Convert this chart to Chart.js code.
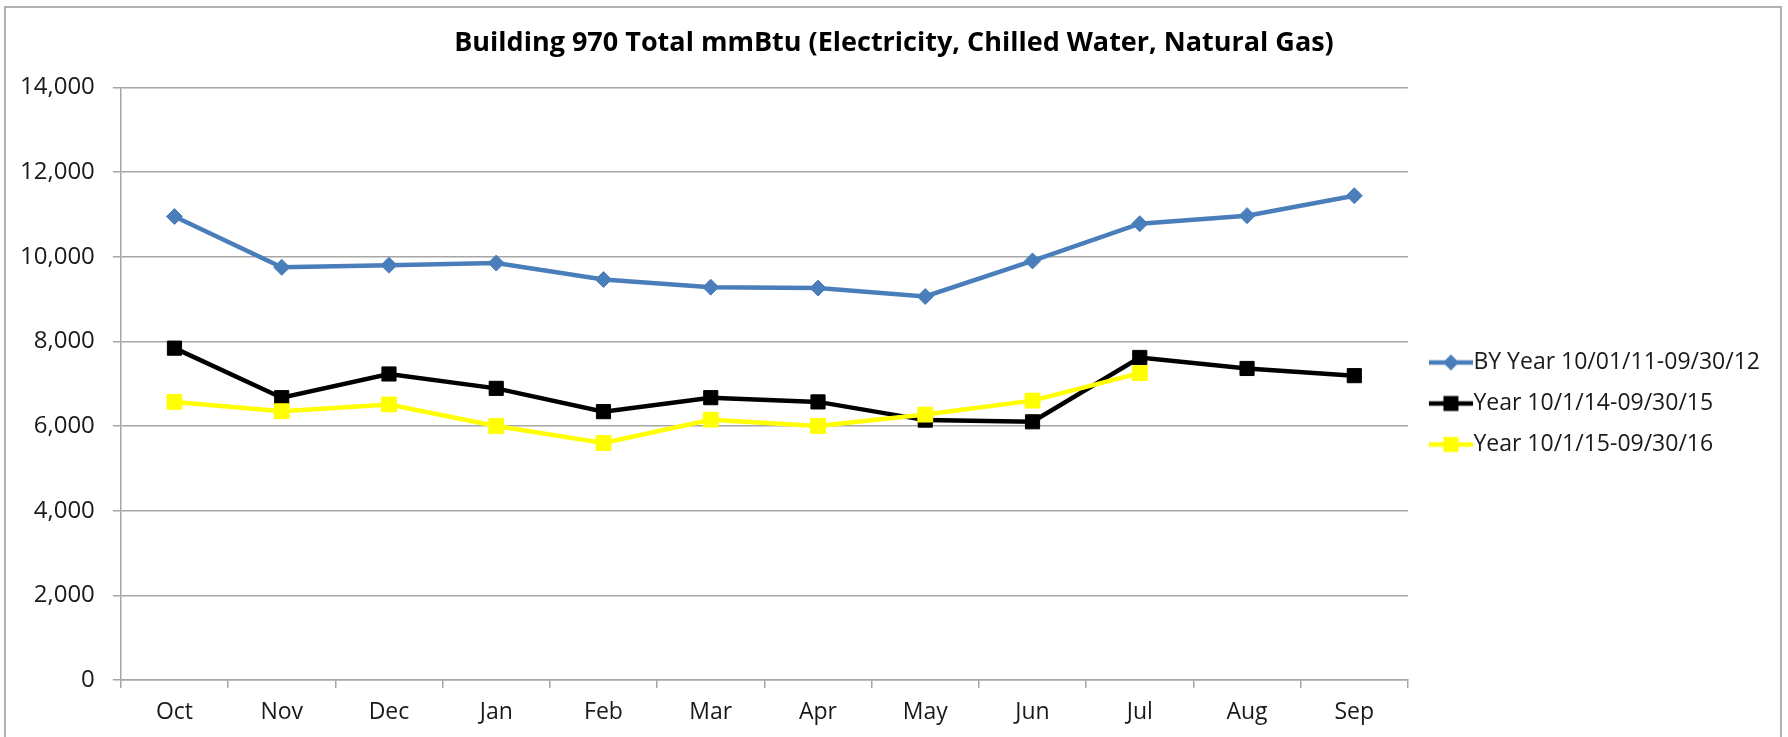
<!DOCTYPE html>
<html>
<head>
<meta charset="utf-8">
<title>Building 970 Total mmBtu</title>
<script src="https://cdn.jsdelivr.net/npm/chart.js@4.4.1/dist/chart.umd.min.js"></script>
<style>
  body { margin: 0; background: #fff; }
  canvas { display: block; }
</style>
</head>
<body>
<canvas id="myChart" width="1788" height="737"></canvas>
<script>
let months = ['Oct', 'Nov', 'Dec', 'Jan', 'Feb', 'Mar', 'Apr', 'May', 'Jun', 'Jul', 'Aug', 'Sep'];
let seriesNames = ['BY Year 10/01/11-09/30/12', 'Year 10/1/14-09/30/15', 'Year 10/1/15-09/30/16'];
let byYear = [10950, 9750, 9800, 9850, 9460, 9280, 9260, 9060, 9900, 10780, 10970, 11440];
let year1415 = [7840, 6670, 7230, 6890, 6340, 6670, 6570, 6140, 6100, 7620, 7360, 7190];
let year1516 = [6570, 6350, 6510, 6000, 5600, 6150, 6000, 6270, 6600, 7250, null, null];
let yMax = 14000;
let yStep = 2000;

let gridGray = '#a6a6a6';
let blue = '#4a7ebb';

// small canvas used as the legend swatch: a line with the marker in the middle
let legendIcon = function(color, shape) {
  let c = document.createElement('canvas');
  c.width = 58;
  c.height = 22;
  let g = c.getContext('2d');
  g.strokeStyle = color;
  g.fillStyle = color;
  g.lineWidth = 4.5;
  g.beginPath();
  g.moveTo(14, 11);
  g.lineTo(58, 11);
  g.stroke();
  g.beginPath();
  if (shape === 'diamond') {
    g.moveTo(36 - 8, 11);
    g.lineTo(36, 3);
    g.lineTo(36 + 8, 11);
    g.lineTo(36, 19);
    g.closePath();
  } else {
    g.rect(36 - 7.5, 11 - 7.5, 15, 15);
  }
  g.fill();
  return c;
};

let icons = [legendIcon(blue, 'diamond'), legendIcon('#000000', 'square'), legendIcon('#ffff00', 'square')];

let frame = {
  id: 'frame',
  beforeDraw(chart) {
    let c = chart.ctx;
    c.save();
    c.fillStyle = '#ffffff';
    c.fillRect(0, 0, chart.width, chart.height);
    c.strokeStyle = '#b0b0b0';
    c.lineWidth = 2;
    c.strokeRect(5, 7, 1776, 760);
    c.restore();
  }
};

// Excel puts the legend a bit lower and the title on the true middle of the page
let nudge = {
  id: 'nudge',
  afterLayout(chart) {
    chart.legend.top += 35;
    chart.legend.bottom += 35;
    chart.titleBlock.left += 8;
    chart.titleBlock.right += 8;
  }
};

Chart.defaults.font.family = "'Open Sans', sans-serif";
Chart.defaults.color = '#1a1a1a';

let ctx = document.getElementById('myChart').getContext('2d');
window.chart = new Chart(ctx, {
  type: 'line',
  data: {
    labels: months,
    datasets: [{
      label: seriesNames[0],
      data: byYear,
      borderColor: blue,
      backgroundColor: blue,
      borderWidth: 4.5,
      pointStyle: 'rectRot',
      pointRadius: 8,
      pointBorderWidth: 1,
      order: 2
    }, {
      label: seriesNames[1],
      data: year1415,
      borderColor: '#000000',
      backgroundColor: '#000000',
      borderWidth: 4.5,
      pointStyle: 'rect',
      pointRadius: 10,
      pointBorderWidth: 1,
      order: 1
    }, {
      label: seriesNames[2],
      data: year1516,
      borderColor: '#ffff00',
      backgroundColor: '#ffff00',
      borderWidth: 4.5,
      pointStyle: 'rect',
      pointRadius: 10.5,
      pointBorderWidth: 1,
      spanGaps: false,
      order: 0
    }]
  },
  options: {
    responsive: false,
    animation: false,
    layout: { padding: { left: 2, right: 18, top: 0, bottom: 0 } },
    plugins: {
      title: {
        display: true,
        text: 'Building 970 Total mmBtu (Electricity, Chilled Water, Natural Gas)',
        color: '#000000',
        font: { size: 27, weight: 'bold' },
        padding: { top: 27, bottom: 28 }
      },
      legend: {
        position: 'right',
        labels: {
          usePointStyle: true,
          pointStyleWidth: 36,
          padding: 18,
          color: '#1a1a1a',
          font: { size: 23 },
          generateLabels: function(chart) {
            return seriesNames.map((name, i) => ({
              text: name,
              pointStyle: icons[i],
              datasetIndex: i,
              hidden: false,
              lineWidth: 0,
              fontColor: '#1a1a1a'
            }));
          }
        }
      },
      tooltip: { enabled: false }
    },
    scales: {
      x: {
        offset: true,
        grid: {
          offset: true,
          drawOnChartArea: false,
          tickLength: 8,
          color: gridGray,
          lineWidth: 1.5
        },
        border: { color: gridGray, width: 1.5 },
        ticks: { font: { size: 23, lineHeight: 1.0 }, padding: 13, color: '#1a1a1a' }
      },
      y: {
        min: 0,
        max: yMax,
        grid: { color: gridGray, lineWidth: 1.5, tickLength: 8 },
        border: { color: gridGray, width: 1.5 },
        ticks: {
          stepSize: yStep,
          font: { size: 24 },
          padding: 18,
          color: '#1a1a1a',
          callback: (v) => v.toLocaleString('en-US')
        }
      }
    }
  },
  plugins: [frame, nudge]
});
</script>
</body>
</html>
